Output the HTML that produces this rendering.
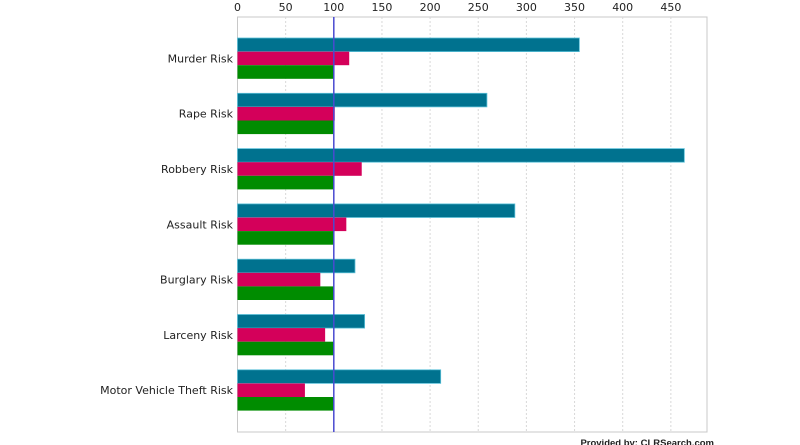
<!DOCTYPE html>
<html><head><meta charset="utf-8"><style>
body{margin:0;background:#fff;width:800px;height:445px;overflow:hidden;font-family:"DejaVu Sans","Liberation Sans",sans-serif}
</style></head><body>
<svg id="c" width="800" height="445" style="position:absolute;left:0;top:0"></svg>
<script>
const categories=["Murder Risk","Rape Risk","Robbery Risk","Assault Risk","Burglary Risk","Larceny Risk","Motor Vehicle Theft Risk"];
const cityValues=[355,259,464,288,122,132,211];
const stateValues=[116,101,129,113,86,91,70];
const nationalValues=[100,100,100,100,100,100,100];
const ticks=[0,50,100,150,200,250,300,350,400,450];
const refValue=100;
const svg=document.getElementById('c');
const NS='http://www.w3.org/2000/svg';
const L=237.5,R=707,T=17,B=432,K=0.963;
const x=v=>L+v*K;
const gy=i=>38+i*55.3;
function mk(tag,a,name){const e=document.createElementNS(NS,tag);for(const k in a)e.setAttribute(k,a[k]);


svg.appendChild(e);return e;}
mk('rect',{x:L,y:T,width:R-L,height:B-T,fill:'#fff',stroke:'#c8c8c8'},'plot-area');
ticks.forEach(t=>{
 if(t>0)mk('line',{x1:x(t),x2:x(t),y1:T,y2:B,stroke:'#d8d8d8','stroke-dasharray':'2,2'},'grid-line-'+t);
 const tx=mk('text',{x:x(t),y:11,'text-anchor':'middle','font-size':'11',fill:'#222'},'x-tick-'+t);tx.textContent=t;
});
const h=13.6;
categories.forEach((c,i)=>{
 const y=gy(i);
 mk('rect',{x:L,y:y,width:x(cityValues[i])-L,height:h,fill:'#00728f',stroke:'#5bc0d8','stroke-width':0.8},'bar-city-'+i);
 mk('rect',{x:L,y:y+h,width:x(stateValues[i])-L,height:h,fill:'#d4005a'},'bar-state-'+i);
 mk('rect',{x:L,y:y+2*h,width:x(nationalValues[i])-L,height:h,fill:'#008c00'},'bar-national-'+i);
 const t=mk('text',{x:233,y:y+h*1.5+4,'text-anchor':'end','font-size':'11',fill:'#222'},'category-label-'+i);t.textContent=c;
});
mk('line',{x1:x(refValue),x2:x(refValue),y1:T,y2:B,stroke:'#4a4ad0','stroke-width':1.5},'reference-line-100');
const p=mk('text',{x:714,y:446,'text-anchor':'end','font-size':'9.5','font-weight':'bold','font-family':'Liberation Sans, sans-serif',fill:'#222'},'provided-by-credit');p.textContent='Provided by: CLRSearch.com';
</script>
</body></html>
